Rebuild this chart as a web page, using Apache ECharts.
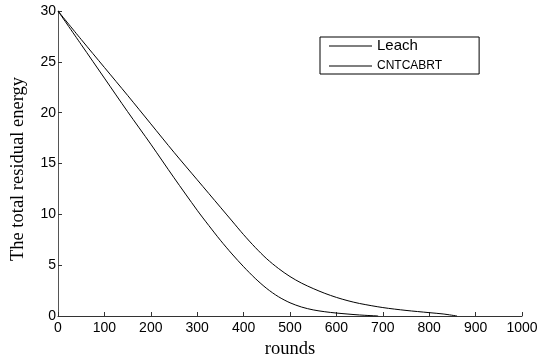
<!DOCTYPE html>
<html>
<head>
<meta charset="utf-8">
<script src="https://cdn.jsdelivr.net/npm/echarts@6/dist/echarts.min.js"></script>
<style>html,body{margin:0;padding:0;background:#fff}#c{width:541px;height:359px}</style>
</head>
<body>
<div id="c"></div>
<script>
var seriesNames = ['Leach', 'CNTCABRT'];
var xTicks = [0, 100, 200, 300, 400, 500, 600, 700, 800, 900, 1000];
var yTicks = [0, 5, 10, 15, 20, 25, 30];

var leachRounds = [0, 50, 100, 150, 200, 250, 300, 325, 350, 375, 400, 425, 450, 475, 500, 525, 550, 575, 600, 650, 690];
var leachEnergy = [30, 26.7, 23.4, 20.1, 16.9, 13.6, 10.4, 8.9, 7.45, 6.1, 4.85, 3.7, 2.7, 1.9, 1.3, 0.88, 0.6, 0.42, 0.29, 0.1, 0];

var cntRounds = [0, 50, 100, 150, 200, 250, 300, 350, 375, 400, 425, 450, 475, 500, 525, 550, 575, 600, 625, 650, 700, 750, 800, 830, 860];
var cntEnergy = [30, 27.2, 24.45, 21.7, 18.9, 16.1, 13.4, 10.7, 9.35, 8.0, 6.75, 5.62, 4.68, 3.88, 3.23, 2.7, 2.23, 1.83, 1.5, 1.23, 0.83, 0.55, 0.33, 0.2, 0];

function pairs(xs, ys) { return xs.map(function (x, i) { return [x, ys[i]]; }); }

var chart = echarts.init(document.getElementById('c'), null, { renderer: 'canvas' });
var sans = 'Liberation Sans, Arial, sans-serif';
var serif = 'Liberation Serif, Times New Roman, serif';
chart.setOption({
  animation: false,
  backgroundColor: '#fff',
  grid: { left: 58, right: 19, top: 11, bottom: 43, containLabel: false, outerBoundsMode: 'none' },
  legend: {
    orient: 'vertical',
    left: 320, top: 37,
    padding: [1, 37, 0, 9],
    itemGap: 4,
    itemWidth: 43, itemHeight: 1,
    icon: 'rect',
    borderColor: '#000', borderWidth: 1,
    data: [
      { name: seriesNames[0], textStyle: { fontSize: 15, lineHeight: 16, fontFamily: sans, color: '#000' } },
      { name: seriesNames[1], textStyle: { fontSize: 12, lineHeight: 16, fontFamily: sans, color: '#000' } }
    ],
    itemStyle: { color: '#000' }
  },
  xAxis: {
    type: 'value', min: 0, max: 1000, interval: 100,
    name: 'rounds', nameLocation: 'middle', nameGap: 22,
    nameTextStyle: { fontFamily: serif, fontSize: 18.5, color: '#000' },
    axisLine: { lineStyle: { color: '#333', width: 1 } },
    axisTick: { inside: true, length: 4, lineStyle: { color: '#333' } },
    axisLabel: { fontFamily: sans, fontSize: 14, color: '#000', margin: 5,
      formatter: function (v) { return xTicks.indexOf(v) >= 0 ? String(v) : ''; } },
    splitLine: { show: false }
  },
  yAxis: {
    type: 'value', min: 0, max: 30, interval: 5,
    name: 'The total residual energy', nameLocation: 'middle', nameGap: 30,
    nameTextStyle: { fontFamily: serif, fontSize: 18.5, color: '#000', padding: [0, 11, 0, 0] },
    axisLine: { show: true, lineStyle: { color: '#555', width: 1 } },
    axisTick: { show: true, inside: true, length: 4, lineStyle: { color: '#333' } },
    axisLabel: { fontFamily: sans, fontSize: 14, color: '#000', margin: 2,
      formatter: function (v) { return yTicks.indexOf(v) >= 0 ? String(v) : ''; } },
    splitLine: { show: false }
  },
  series: [
    { name: seriesNames[0], type: 'line', data: pairs(leachRounds, leachEnergy), showSymbol: false, symbol: 'none', smooth: 0.3,
      lineStyle: { color: '#000', width: 1 }, itemStyle: { color: '#000' } },
    { name: seriesNames[1], type: 'line', data: pairs(cntRounds, cntEnergy), showSymbol: false, symbol: 'none', smooth: 0.3,
      lineStyle: { color: '#000', width: 1 }, itemStyle: { color: '#000' } }
  ]
});
</script>
</body>
</html>
